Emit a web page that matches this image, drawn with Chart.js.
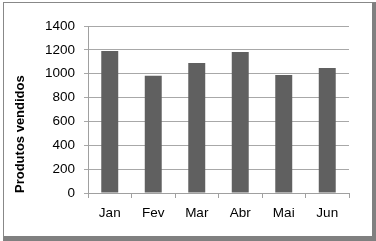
<!DOCTYPE html>
<html>
<head>
<meta charset="utf-8">
<script src="https://cdn.jsdelivr.net/npm/chart.js@4/dist/chart.umd.min.js"></script>
<style>
html,body{margin:0;padding:0;background:#fff;}
#frame{position:absolute;left:3px;top:2px;width:368px;height:233px;border-left:1px solid #888;border-top:1px solid #888;border-right:4px solid #808080;border-bottom:5px solid #808080;}
#wrap{position:absolute;left:0;top:0;width:376px;height:241px;}
</style>
</head>
<body>
<div id="frame"></div>
<div id="wrap"><canvas id="c" width="376" height="241"></canvas></div>
<script>
const categories = ["Jan", "Fev", "Mar", "Abr", "Mai", "Jun"];
const vendidos = [1190, 983, 1090, 1182, 989, 1048];
const yTicks = [0, 200, 400, 600, 800, 1000, 1200, 1400];
const yTitle = "Produtos vendidos";

new Chart(document.getElementById('c'), {
  type: 'bar',
  data: {
    labels: categories,
    datasets: [{
      data: vendidos,
      backgroundColor: '#606060',
      borderWidth: 0,
      categoryPercentage: 1,
      barPercentage: 0.39
    }]
  },
  options: {
    responsive: false,
    animation: false,
    devicePixelRatio: 1,
    plugins: { legend: { display: false }, tooltip: { enabled: false } },
    layout: { padding: { left: 13, right: 27, top: 26, bottom: 18 } },
    scales: {
      x: {
        grid: { offset: true, drawOnChartArea: false, drawTicks: true, tickLength: 5, color: '#a0a0a0' },
        border: { color: '#a0a0a0' },
        ticks: { color: '#000', font: { family: 'Liberation Sans', size: 13.5 }, padding: 7 },
        afterFit: (s) => { s.height = 30; }
      },
      y: {
        min: 0, max: 1400,
        afterBuildTicks: (s) => { s.ticks = yTicks.map(v => ({ value: v })); },
        grid: { color: '#a8a8a8', tickLength: 4, drawTicks: true },
        border: { color: '#a0a0a0' },
        ticks: { color: '#000', font: { family: 'Liberation Sans', size: 13.5 }, padding: 9, callback: (v) => String(v) },
        title: { display: true, text: yTitle, align: 'start', color: '#000', font: { family: 'Liberation Sans', size: 13, weight: 'bold' }, padding: 0 },
        afterFit: (s) => { s.width = 75; }
      }
    }
  }
});
</script>
</body>
</html>
